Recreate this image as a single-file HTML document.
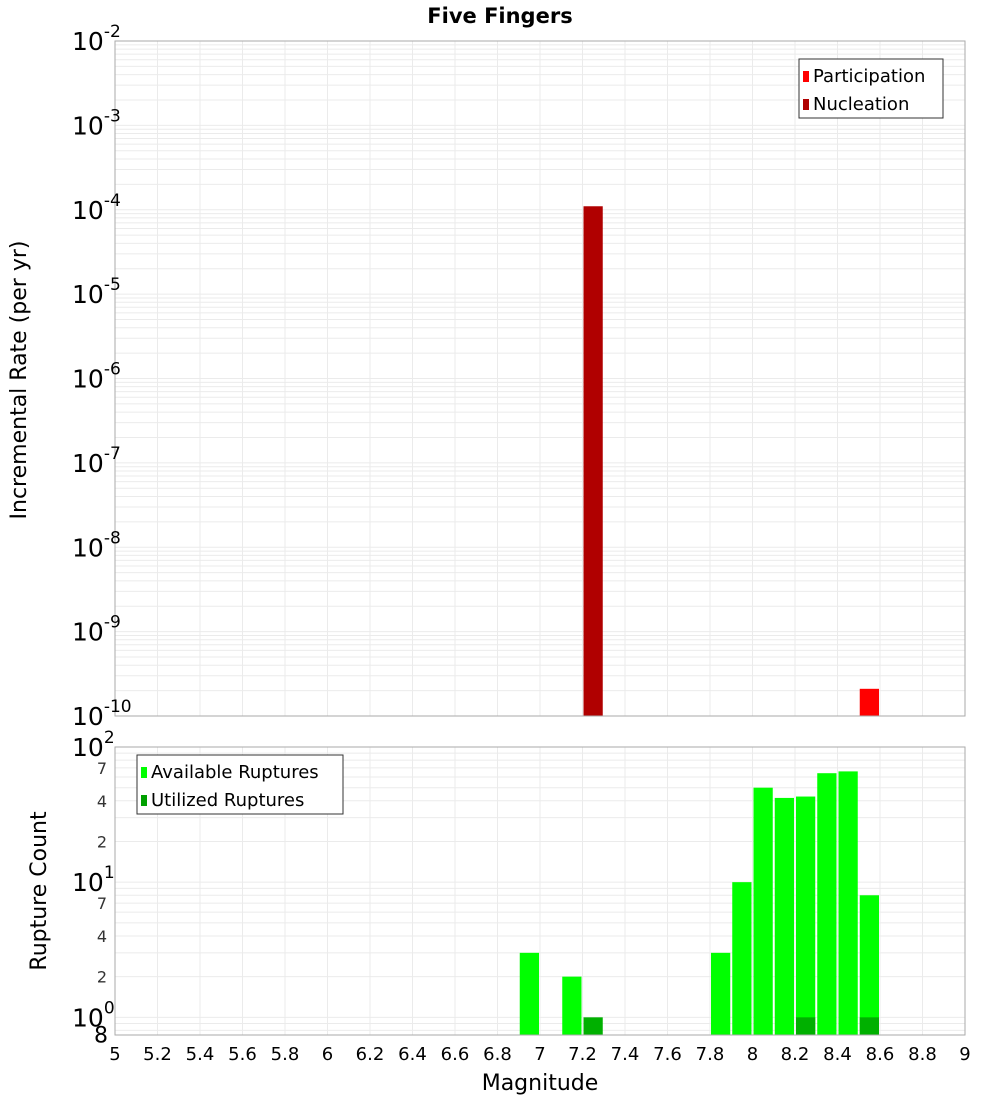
<!DOCTYPE html>
<html><head><meta charset="utf-8"><style>
body{margin:0;background:#fff;}
svg{display:block;font-family:"DejaVu Sans","Liberation Sans",sans-serif;}
</style></head><body>
<svg id="c" width="1000" height="1100" xmlns="http://www.w3.org/2000/svg"></svg>
<script>
const xTicks=[5,5.2,5.4,5.6,5.8,6,6.2,6.4,6.6,6.8,7,7.2,7.4,7.6,7.8,8,8.2,8.4,8.6,8.8,9];
const xTickLabels=["5","5.2","5.4","5.6","5.8","6","6.2","6.4","6.6","6.8","7","7.2","7.4","7.6","7.8","8","8.2","8.4","8.6","8.8","9"];
const topDecades=[-2,-3,-4,-5,-6,-7,-8,-9,-10];
const nuclMags=[7.25];
const nuclRates=[1.1e-4];
const partMags=[8.55];
const partRates=[2.1e-10];
const availMags=[6.95,7.15,7.85,7.95,8.05,8.15,8.25,8.35,8.45,8.55];
const availCounts=[3,2,3,10,50,42,43,64,66,8];
const utilMags=[7.25,8.25,8.55];
const utilCounts=[1,1,1];
const botTickVals=[70,40,20,7,4,2];
const botTickLabels=["7","4","2","7","4","2"];

const svg=document.getElementById('c');
const NS='http://www.w3.org/2000/svg';
function el(t,a,p){const e=document.createElementNS(NS,t);for(const k in a)e.setAttribute(k,a[k]);(p||svg).appendChild(e);return e;}
const L=115,R=965;
const X=v=>L+(v-5)/4*(R-L);
const T0=41,T1=716;
const Yt=v=>T0+(-2-Math.log10(v))/8*(T1-T0);
const B0=747,B1=1035,BMIN=Math.log10(0.74);
const Yb=v=>B0+(2-Math.log10(v))/(2-BMIN)*(B1-B0);

// title
let t=el('text',{x:500,y:23,'text-anchor':'middle','font-size':21,'font-weight':'bold'});t.textContent='Five Fingers';


// top grid
let g=el('g',{});
for(let d=-10;d<-2;d++){for(let m=1;m<10;m++){const y=Yt(m*Math.pow(10,d));el('line',{x1:L,x2:R,y1:y,y2:y,stroke:'#ebebeb','stroke-width':1},g);}}
xTicks.forEach(v=>el('line',{x1:X(v),x2:X(v),y1:T0,y2:T1,stroke:'#ebebeb'},g));
// bottom grid
let g2=el('g',{});
[0.8,0.9,1,2,3,4,5,6,7,8,9,10,20,30,40,50,60,70,80,90].forEach(v=>{const y=Yb(v);el('line',{x1:L,x2:R,y1:y,y2:y,stroke:'#ebebeb'},g2);});
xTicks.forEach(v=>el('line',{x1:X(v),x2:X(v),y1:B0,y2:B1,stroke:'#ebebeb'},g2));

// top bars
const bw=0.1*(R-L)/4;
nuclMags.forEach((m,i)=>{const r=el('rect',{x:X(m)-bw/2+1,y:Yt(nuclRates[i]),width:bw-2,height:T1-Yt(nuclRates[i]),fill:'#b00000'});
});
partMags.forEach((m,i)=>{const r=el('rect',{x:X(m)-bw/2+1,y:Yt(partRates[i]),width:bw-2,height:T1-Yt(partRates[i]),fill:'#ff0000'});
});
// bottom bars
availMags.forEach((m,i)=>{const r=el('rect',{x:X(m)-bw/2+1,y:Yb(availCounts[i]),width:bw-2,height:B1-Yb(availCounts[i]),fill:'#00ff00'});
});
utilMags.forEach((m,i)=>{const r=el('rect',{x:X(m)-bw/2+1,y:Yb(utilCounts[i]),width:bw-2,height:B1-Yb(utilCounts[i]),fill:'#00b000'});
});

// frames
let f1=el('rect',{x:L,y:T0,width:R-L,height:T1-T0,fill:'none',stroke:'#aaa'});
let f2=el('rect',{x:L,y:B0,width:R-L,height:B1-B0,fill:'none',stroke:'#aaa'});

// top y labels
topDecades.forEach(d=>{const y=Yt(Math.pow(10,d));const tx=el('text',{x:72,y:y+9,'font-size':25});

tx.textContent='10';const s=el('tspan',{dy:-13,'font-size':17},tx);s.textContent=String(d);});
// bottom y labels
[[100,'2'],[10,'1'],[1,'0']].forEach(([v,e])=>{const y=Yb(v);const tx=el('text',{x:72,y:y+9,'font-size':25});

tx.textContent='10';const s=el('tspan',{dy:-13,'font-size':17},tx);s.textContent=e;});
botTickVals.forEach((v,i)=>{const tx=el('text',{x:107,y:Yb(v)+6,'font-size':16,'text-anchor':'end',fill:'#333'});tx.textContent=botTickLabels[i];
});
let e8=el('text',{x:108,y:Yb(0.8)+12,'font-size':22,'text-anchor':'end'});e8.textContent='8';


// x labels
xTicks.forEach((v,i)=>{const tx=el('text',{x:X(v),y:1060,'font-size':18,'text-anchor':'middle'});tx.textContent=xTickLabels[i];
});
let xt=el('text',{x:540,y:1090,'font-size':22,'text-anchor':'middle'});xt.textContent='Magnitude';

let yt1=el('text',{x:0,y:0,'font-size':22,'text-anchor':'middle',transform:'translate(26,380) rotate(-90)'});yt1.textContent='Incremental Rate (per yr)';

let yt2=el('text',{x:0,y:0,'font-size':22,'text-anchor':'middle',transform:'translate(46,891) rotate(-90)'});yt2.textContent='Rupture Count';


// legends
function legend(x,y,w,h,items,name){const lg=el('g',{});
el('rect',{x:x,y:y,width:w,height:h,fill:'#fff',stroke:'#333'},lg);
items.forEach((it,i)=>{const r=el('rect',{x:x+4,y:y+12+i*28,width:6,height:11,fill:it[1]},lg);

const tx=el('text',{x:x+14,y:y+23+i*28,'font-size':18},lg);tx.textContent=it[0];
});}
legend(799,59,144,59,[['Participation','#ff0000'],['Nucleation','#b00000']],'top-legend');
legend(137,755,206,59,[['Available Ruptures','#00ff00'],['Utilized Ruptures','#00a000']],'bottom-legend');
</script>
</body></html>
